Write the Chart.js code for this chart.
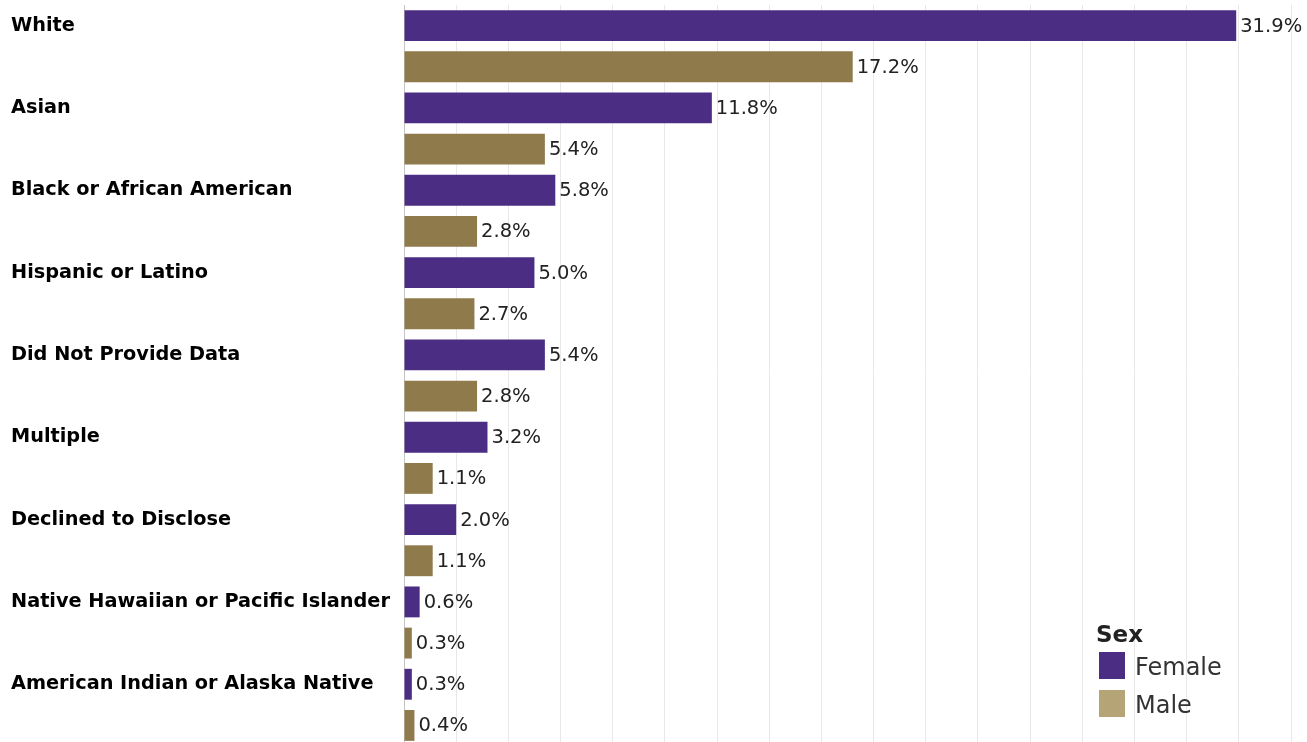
<!DOCTYPE html>
<html>
<head>
<meta charset="utf-8">
<script src="https://cdn.jsdelivr.net/npm/chart.js@4.4.0/dist/chart.umd.min.js"></script>
<style>
html, body { margin: 0; padding: 0; background: #fff; overflow: hidden; }
#wrap { width: 1307px; height: 747px; position: relative; }
</style>
</head>
<body>
<div id="wrap"><canvas id="chart"></canvas></div>
<script>
// data
var categories = ['White', 'Asian', 'Black or African American', 'Hispanic or Latino', 'Did Not Provide Data', 'Multiple', 'Declined to Disclose', 'Native Hawaiian or Pacific Islander', 'American Indian or Alaska Native'];
var female = [31.9, 11.8, 5.8, 5.0, 5.4, 3.2, 2.0, 0.6, 0.3];
var male = [17.2, 5.4, 2.8, 2.7, 2.8, 1.1, 1.1, 0.3, 0.4];
var xMax = 34;
var xStep = 2;

var FEMALE = '#4b2e83';
var MALE = '#8f7a4b';
var MALE_LEGEND = '#b5a576';

// one row per sex, label only on the female row
var labels = [], femaleRow = [], maleRow = [];
for (var i = 0; i < categories.length; i++) {
    labels.push(categories[i], '');
    femaleRow.push(female[i], null);
    maleRow.push(null, male[i]);
}

var valueLabels = {
    id: 'valueLabels',
    afterDatasetsDraw: function (chart) {
        var ctx = chart.ctx;
        ctx.save();
        ctx.font = '19.5px "DejaVu Sans"';
        ctx.fillStyle = '#222';
        ctx.textAlign = 'left';
        ctx.textBaseline = 'middle';
        chart.data.datasets.forEach(function (ds, di) {
            chart.getDatasetMeta(di).data.forEach(function (bar, j) {
                var v = ds.data[j];
                if (v === null) return;
                ctx.fillText(v.toFixed(1) + '%', bar.x + 4, bar.y + 1);
            });
        });
        ctx.restore();
    }
};

var sexLegend = {
    id: 'sexLegend',
    afterDraw: function (chart) {
        var ctx = chart.ctx;
        var x = 1096, y = 642;
        ctx.save();
        ctx.fillStyle = '#222';
        ctx.textBaseline = 'alphabetic';
        ctx.font = 'bold 23px "DejaVu Sans"';
        ctx.fillText('Sex', x, y);
        var items = [['Female', FEMALE], ['Male', MALE_LEGEND]];
        items.forEach(function (it, k) {
            var top = 652 + k * 38;
            ctx.fillStyle = it[1];
            ctx.fillRect(x + 3, top, 26, 27);
            ctx.fillStyle = '#333';
            ctx.font = '24px "DejaVu Sans"';
            ctx.fillText(it[0], x + 39, top + 23);
        });
        ctx.restore();
    }
};

var ctx = document.getElementById('chart').getContext('2d');
var chart = new Chart(ctx, {
    type: 'bar',
    data: {
        labels: labels,
        datasets: [{
            label: 'Female',
            data: femaleRow,
            backgroundColor: FEMALE,
            grouped: false,
            barPercentage: 0.75,
            categoryPercentage: 1
        }, {
            label: 'Male',
            data: maleRow,
            backgroundColor: MALE,
            grouped: false,
            barPercentage: 0.75,
            categoryPercentage: 1
        }]
    },
    options: {
        indexAxis: 'y',
        responsive: true,
        maintainAspectRatio: false,
        animation: false,
        layout: { padding: { left: 11, right: 16, top: 5, bottom: 1 } },
        plugins: {
            legend: { display: false },
            tooltip: { enabled: false }
        },
        scales: {
            x: {
                min: 0,
                max: xMax,
                ticks: { display: false, stepSize: xStep },
                grid: {
                    drawTicks: false,
                    color: function (c) { return c.tick && c.tick.value === 0 ? 'rgba(0,0,0,0)' : '#e8e8e8'; }
                },
                border: { display: false }
            },
            y: {
                grid: { display: false, drawTicks: false },
                border: { display: true, color: '#c4c4c4', dash: [2, 2], width: 1 },
                ticks: {
                    autoSkip: false,
                    crossAlign: 'far',
                    color: '#000',
                    font: { family: 'DejaVu Sans', size: 19.3, weight: 'bold' }
                },
                afterFit: function (scale) {
                    scale.width = 393;
                    scale.paddingTop = 0;
                    scale.paddingBottom = 0;
                }
            }
        }
    },
    plugins: [valueLabels, sexLegend]
});
</script>
</body>
</html>
